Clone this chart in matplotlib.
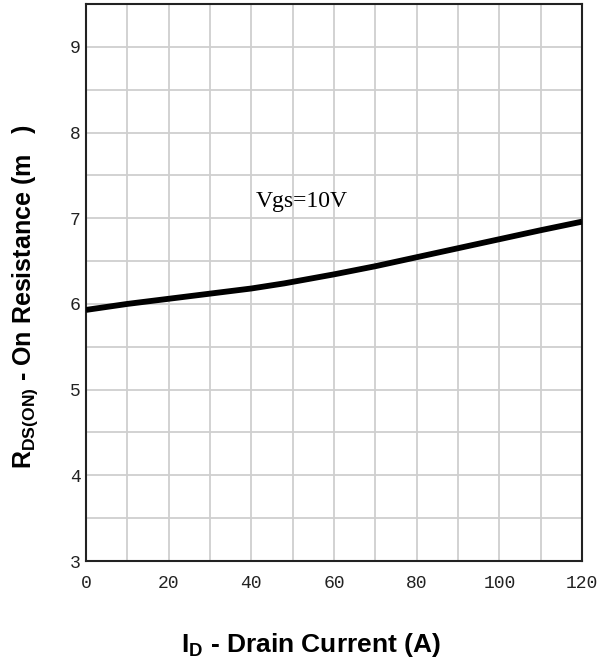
import matplotlib
matplotlib.use("Agg")
import matplotlib.pyplot as plt
from matplotlib.ticker import MultipleLocator

# drain current (A) and on-resistance (mOhm)
current = [0, 10, 20, 30, 40, 48, 60, 70, 80, 90, 100, 110, 120]
rds_on = [5.93, 6.00, 6.06, 6.12, 6.18, 6.24, 6.345, 6.44, 6.545, 6.65, 6.755, 6.86, 6.96]

x_ticks = [0, 20, 40, 60, 80, 100, 120]
y_ticks = [3, 4, 5, 6, 7, 8, 9]

plt.rcParams['mathtext.fontset'] = 'custom'
plt.rcParams['mathtext.rm'] = 'Liberation Sans:bold'
plt.rcParams['mathtext.bf'] = 'Liberation Sans:bold'

fig = plt.figure(figsize=(6.11, 6.66), dpi=100)
ax = fig.add_axes([86/611, 1-561/666, 496/611, 557/666])

ax.plot(current, rds_on, color='black', lw=4.2, solid_capstyle='butt', zorder=3)

ax.set_xlim(0, 120)
ax.set_ylim(3, 9.5)
ax.set_xticks(x_ticks)
ax.set_yticks(y_ticks)
ax.xaxis.set_minor_locator(MultipleLocator(10))
ax.yaxis.set_minor_locator(MultipleLocator(0.5))
ax.grid(True, which='both', color='#cfcfcf', lw=1.3)
ax.set_axisbelow(True)

ax.tick_params(which='both', length=0)
ax.tick_params(axis='x', pad=10)
ax.tick_params(axis='y', pad=4)
for lbl in ax.get_xticklabels() + ax.get_yticklabels():
    lbl.set_fontfamily('Liberation Mono')
    lbl.set_fontsize(13)
    lbl.set_color('#222222')

for sp in ax.spines.values():
    sp.set_color('#222222')
    sp.set_linewidth(1.5)

ax.text(41, 7.2, 'Vgs=10V', family='Liberation Serif', fontsize=17, va='center', ha='left')

fig.text(311/611, 1-645/666, r'I$_{\mathrm{D}}$ - Drain Current (A)', family='Liberation Sans',
         weight='bold', fontsize=19, ha='center', va='center')
fig.text(25/611, 1-297/666, r'R$_{\mathrm{DS(ON)}}$ - On Resistance (m   )', family='Liberation Sans',
         weight='bold', fontsize=18, ha='center', va='center', rotation=90)

fig.savefig('out.png', dpi=100)
